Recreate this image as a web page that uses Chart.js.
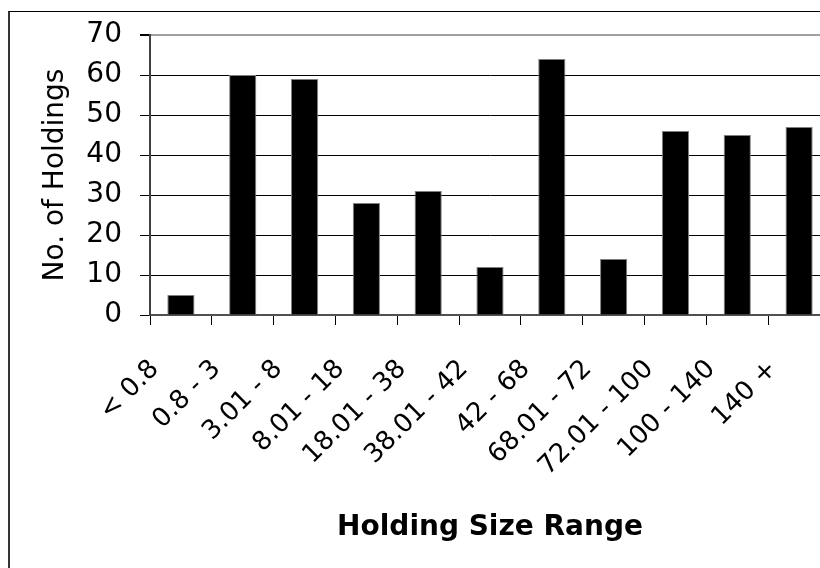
<!DOCTYPE html>
<html><head><meta charset="utf-8">
<script src="https://cdn.jsdelivr.net/npm/chart.js@4"></script>
<style>
html,body{margin:0;padding:0;background:#fff;overflow:hidden;width:820px;height:568px;}
#frame{position:absolute;left:8px;top:11px;width:900px;height:620px;border-top:1px solid #000;border-left:2px solid #333;}
#c{position:absolute;left:0;top:0;}
</style></head><body>
<div id="frame"><canvas id="c" width="850" height="556" style="width:850px;height:556px"></canvas></div>
<script>
const categories = ["< 0.8", "0.8 - 3", "3.01 - 8", "8.01 - 18", "18.01 - 38", "38.01 - 42", "42 - 68", "68.01 - 72", "72.01 - 100", "100 - 140", "140 +"];
const holdings = [5, 60, 59, 28, 31, 12, 64, 14, 46, 45, 47];
const yTicks = [0, 10, 20, 30, 40, 50, 60, 70];
const xTitle = "Holding Size Range";
const yTitle = "No. of Holdings";

Chart.defaults.font.family = "'DejaVu Sans', Verdana, sans-serif";
Chart.defaults.color = "#000";

new Chart(document.getElementById('c'), {
  type: 'bar',
  data: {
    labels: categories,
    datasets: [{
      data: holdings,
      backgroundColor: '#000',
      borderColor: '#808080',
      borderWidth: 1,
      barPercentage: 0.44,
      categoryPercentage: 1
    }]
  },
  options: {
    responsive: false,
    animation: false,
    devicePixelRatio: 1,
    layout: { padding: { top: 23, right: 30, bottom: 0, left: 0 } },
    plugins: { legend: { display: false }, tooltip: { enabled: false } },
    scales: {
      x: {
        afterFit: s => { s.height = 253; },
        grid: { drawOnChartArea: false, drawTicks: true, tickLength: 10, tickColor: '#000', offset: true },
        border: { color: '#505050', width: 2 },
        ticks: { font: { size: 26 }, minRotation: 45, maxRotation: 45, autoSkip: false, padding: 29, labelOffset: -26, color: '#000' },
        title: { display: true, text: xTitle, font: { size: 28, weight: 'bold' }, padding: { top: 0, bottom: 23 }, color: '#000' }
      },
      y: {
        min: 0, max: 70,
        afterFit: s => { s.width = 140; s.paddingTop = 0; s.paddingBottom = 0; },
        afterBuildTicks: s => { s.ticks = yTicks.map(v => ({ value: v })); },
        grid: {
          color: c => (c.tick && c.tick.value === 70) ? '#a0a0a0' : '#000',
          lineWidth: c => (c.tick && c.tick.value === 70) ? 2 : 1,
          tickColor: '#000', tickLength: 10, drawTicks: true
        },
        border: { color: '#404040', width: 2 },
        ticks: { font: { size: 28 }, padding: 18, color: '#000' },
        title: { display: true, text: yTitle, font: { size: 28 }, padding: { top: 29, bottom: 0 }, color: '#000' }
      }
    }
  }
});
</script>
</body></html>
